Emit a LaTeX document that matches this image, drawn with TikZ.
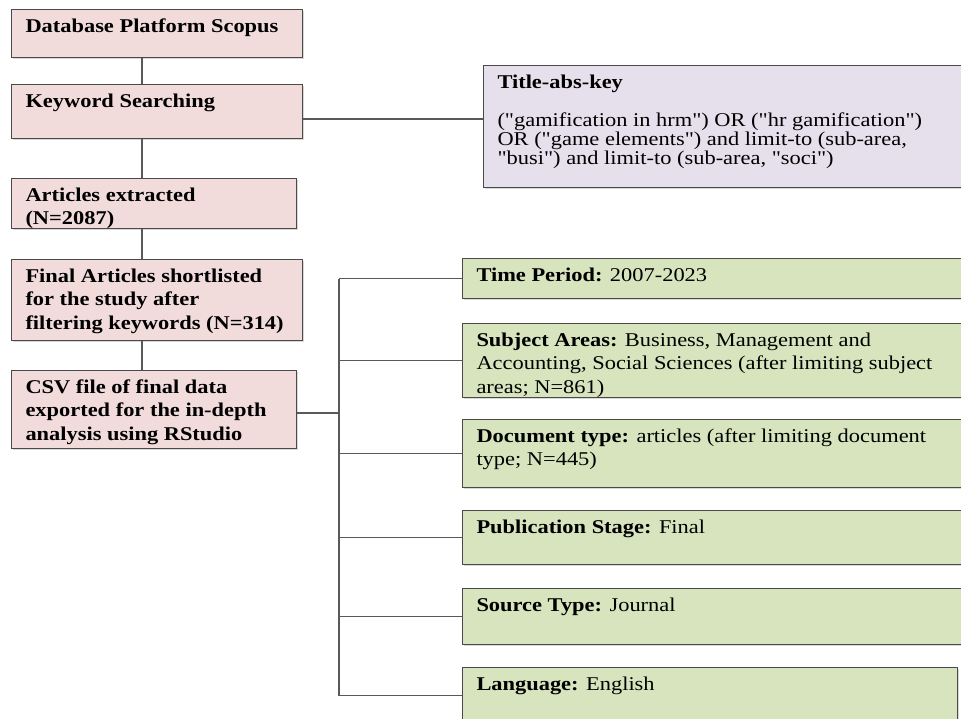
\documentclass[tikz,border=0pt]{standalone}
\usepackage{fontspec}
\setmainfont[FakeStretch=1.15,Ligatures=TeXOff]{Liberation Serif}
\usetikzlibrary{shadows}
\definecolor{pinkfill}{HTML}{F2DCDB}
\definecolor{lilacfill}{HTML}{E5E0EC}
\definecolor{greenfill}{HTML}{D7E4BD}
\definecolor{edge}{HTML}{4A4A4A}
% box text: width of box, height of box, text
\newcommand{\cell}[3]{\parbox[c][#2pt][t]{\dimexpr#1pt-28pt\relax}{\raggedright\rule{0pt}{22.5pt}#3}}
\begin{document}
\begin{tikzpicture}
[x=1pt,y=-1pt,%
  every node/.style={anchor=north west,inner xsep=14pt,inner ysep=0pt,
    font=\fontsize{19.5}{23.5}\selectfont},
  box/.style={draw=edge,line width=1pt,
    drop shadow={shadow xshift=1pt,shadow yshift=-1.5pt,fill=black!30}},
  pinkbox/.style={box,fill=pinkfill},
  lilacbox/.style={box,fill=lilacfill},
  greenbox/.style={box,fill=greenfill},
  link/.style={draw=black!65,line width=1.3pt}]
\useasboundingbox (0,0) rectangle (961,718);
\clip (0,0) rectangle (961,718);
% left column
\node[pinkbox] (db) at (11,9) {\cell{291}{48}{\textbf{Database Platform Scopus}}};
\node[pinkbox] (kw) at (11,84) {\cell{291}{54}{\textbf{Keyword Searching}}};
\node[pinkbox] (art) at (11,178) {\cell{285}{50}{\textbf{Articles extracted\\(N=2087)}}};
\node[pinkbox] (final) at (11,259) {\cell{291}{81}{\textbf{Final Articles shortlisted\\for the study after\\filtering keywords (N=314)}}};
\node[pinkbox] (csv) at (11,370) {\cell{285}{78}{\textbf{CSV file of final data\\exported for the in-depth\\analysis using RStudio}}};
% search string
\node[lilacbox] (title) at (483,65) {\cell{482}{122}{\textbf{Title-abs-key}\par\vspace{19pt}
  {\fontsize{19.5}{19}\selectfont ("gamification in hrm") OR ("hr gamification")\\OR ("game elements") and limit-to (sub-area,\\"busi") and limit-to (sub-area, "soci")\par}}};
% filters
\node[greenbox] (time) at (462,258) {\cell{503}{40}{\textbf{Time Period:} 2007-2023}};
\node[greenbox] (subj) at (462,323) {\cell{503}{74}{\textbf{Subject Areas:} Business, Management and\\Accounting, Social Sciences (after limiting subject\\areas; N=861)}};
\node[greenbox] (doc) at (462,419) {\cell{503}{68}{\textbf{Document type:} articles (after limiting document\\type; N=445)}};
\node[greenbox] (pub) at (462,510) {\cell{503}{54}{\textbf{Publication Stage:} Final}};
\node[greenbox] (src) at (462,588) {\cell{503}{56}{\textbf{Source Type:} Journal}};
\node[greenbox] (lang) at (462,667) {\cell{495}{56}{\textbf{Language:} English}};
% connectors
\coordinate (spine) at (142,0);
\coordinate (kwrow) at (0,119);
\coordinate (brk) at (339,413);
\foreach \a/\b in {db/kw,kw/art,art/final,final/csv}
  \draw[link] (\a.south -| spine) -- (\b.north -| spine);
\draw[link] (kw.east |- kwrow) -- (title.west |- kwrow);
\draw[link] (csv.east |- brk) -- (brk);
\draw[link] (brk |- time.west) -- (brk |- lang.west);
\foreach \b in {time,subj,doc,pub,src,lang}
  \draw[link] (brk |- \b.west) -- (\b.west);
\end{tikzpicture}
\end{document}
